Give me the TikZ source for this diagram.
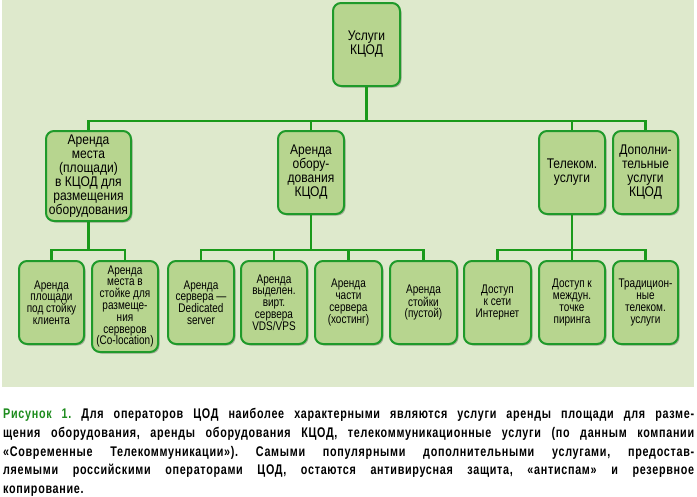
\documentclass[tikz,border=0pt]{standalone}
\usepackage{fontspec}
\setmainfont{Liberation Sans}
\newfontfamily\boxfont[FakeStretch=0.86]{Liberation Sans}
\newfontfamily\smallfont[FakeStretch=0.8]{Liberation Sans}
\newfontfamily\capfont[FakeStretch=0.77,LetterSpace=5]{Liberation Sans}
\usetikzlibrary{shadows}
\definecolor{bgcol}{HTML}{DEE9CC}
\definecolor{boxfill}{HTML}{B7D58F}
\definecolor{boxline}{HTML}{1F9A2A}
\definecolor{conncol}{HTML}{1A9A1A}
\definecolor{capgreen}{HTML}{1E8C1E}
\begin{document}
\begin{tikzpicture}[x=1pt,y=-1pt,
  box/.style={draw=boxline, line width=2pt, fill=boxfill, rounded corners=8pt,
    align=center, inner sep=0pt,
    font=\boxfont\fontsize{14}{14}\selectfont,
    drop shadow={shadow xshift=1.5pt, shadow yshift=-1.5pt, fill=black, opacity=0.25}},
  small/.style={box, font=\smallfont\fontsize{12.5}{11.8}\selectfont},
  conn/.style={draw=conncol, line width=2.6pt}]
\useasboundingbox (0,0) rectangle (697,496);
\fill[white] (0,0) rectangle (697,496);
\fill[bgcol] (2,0) rectangle (694,387);

% level 1
\node[box, minimum width=67pt, minimum height=83pt] (top) at (366.5,44.5) {Услуги\\КЦОД};
% level 2
\node[box, minimum width=85pt, minimum height=90pt] (A) at (88.5,176) {Аренда\\места\\(площади)\\в КЦОД для\\размещения\\оборудования};
\node[box, minimum width=66pt, minimum height=83pt] (B) at (311,172.5) {Аренда\\обору-\\дования\\КЦОД};
\node[box, minimum width=66pt, minimum height=83pt] (C) at (572,172.5) {Телеком.\\услуги};
\node[box, minimum width=65pt, minimum height=83pt] (D) at (645.5,172.5) {Дополни-\\тельные\\услуги\\КЦОД};
% level 3
\node[small, minimum width=65pt, minimum height=83pt] (L1) at (51.5,302.5) {Аренда\\площади\\под стойку\\клиента};
\node[small, minimum width=66pt, minimum height=91pt] (L2) at (125,306.5) {Аренда\\места в\\стойке для\\размеще-\\ния\\серверов\\(Co-location)};
\node[small, minimum width=66pt, minimum height=83pt] (B1) at (201,302.5) {Аренда\\сервера —\\Dedicated\\server};
\node[small, minimum width=66pt, minimum height=83pt] (B2) at (274,302.5) {Аренда\\выделен.\\вирт.\\сервера\\VDS/VPS};
\node[small, minimum width=67pt, minimum height=83pt] (B3) at (348.5,302.5) {Аренда\\части\\сервера\\(хостинг)};
\node[small, minimum width=67pt, minimum height=83pt] (B4) at (423.5,302.5) {Аренда\\стойки\\(пустой)};
\node[small, minimum width=67pt, minimum height=83pt] (C1) at (497.5,302.5) {Доступ\\к сети\\Интернет};
\node[small, minimum width=66pt, minimum height=83pt] (C2) at (572,302.5) {Доступ к\\междун.\\точке\\пиринга};
\node[small, minimum width=65pt, minimum height=83pt] (C3) at (645.5,302.5) {Традицион-\\ные\\телеком.\\услуги};

% connectors
\coordinate (j0) at (366.5,121);
\coordinate (jA) at (88.5,250);
\coordinate (jB) at (311,250);
\coordinate (jC) at (572,250);
\draw[conn] (top.south) -- (j0);
\foreach \n in {A,B,C,D} \draw[conn] (j0) -| (\n.north);
\draw[conn] (A.south) -- (jA);
\foreach \n in {L1,L2} \draw[conn] (jA) -| (\n.north);
\draw[conn] (B.south) -- (jB);
\foreach \n in {B1,B2,B3,B4} \draw[conn] (jB) -| (\n.north);
\draw[conn] (C.south) -- (jC);
\foreach \n in {C1,C2,C3} \draw[conn] (jC) -| (\n.north);

% caption
\node[anchor=north west, inner sep=0pt, text width=691pt, align=justify,
  font=\capfont\bfseries\fontsize{14}{18.8}\selectfont] (cap) at (3,408)
{\frenchspacing\textcolor{capgreen}{Рисунок 1.} Для операторов ЦОД наиболее характерными являются услуги аренды площади для разме-\linebreak
щения оборудования, аренды оборудования КЦОД, телекоммуникационные услуги (по данным компании\linebreak
«Современные Телекоммуникации»). Самыми популярными дополнительными услугами, предостав-\linebreak
ляемыми российскими операторами ЦОД, остаются антивирусная защита, «антиспам» и резервное\linebreak
копирование.};
\end{tikzpicture}
\end{document}
